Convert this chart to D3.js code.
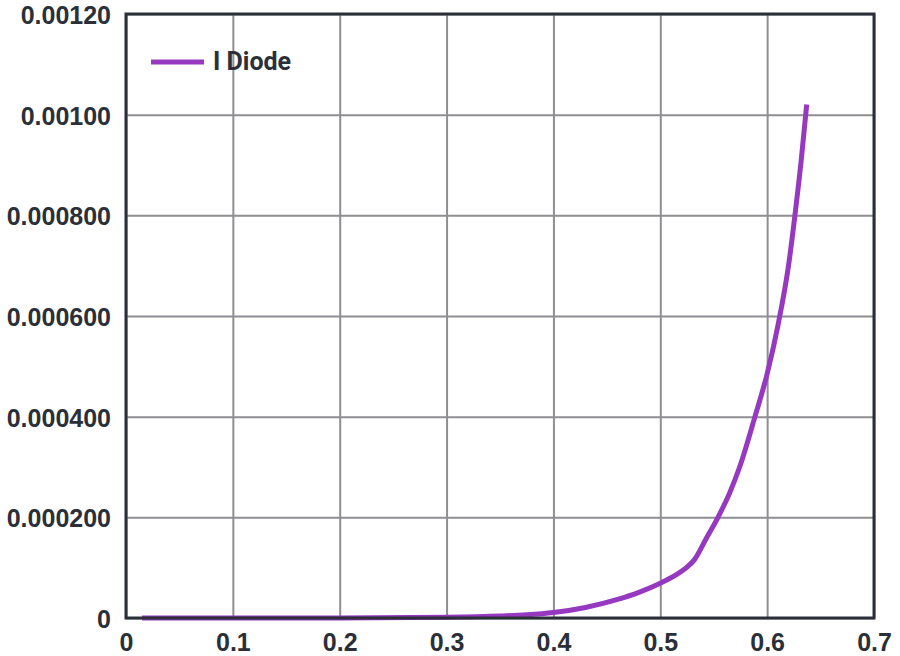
<!DOCTYPE html>
<html>
<head>
<meta charset="utf-8">
<script src="https://cdn.jsdelivr.net/npm/d3@7"></script>
<style>
  html, body { margin: 0; padding: 0; background: #fff; }
  svg { display: block; font-family: Roboto, "Noto Sans", sans-serif; }
  .tick text { font-size: 25px; font-weight: 700; fill: #2b3038; }
  .grid line { stroke: #8e8e93; stroke-width: 2; }
  .grid .domain { display: none; }
</style>
</head>
<body>
<svg width="900" height="656"></svg>
<script>
const seriesName = 'I Diode';

const voltage = [0.015, 0.1, 0.2, 0.3, 0.35, 0.375, 0.4, 0.43, 0.46, 0.48, 0.5, 0.515, 0.525,
  0.532, 0.543, 0.554, 0.565, 0.5746, 0.5886, 0.6, 0.61, 0.62, 0.626, 0.632, 0.637];

const current = [0, 0, 0, 0.0000015, 0.000004, 0.0000065, 0.000011, 0.000021, 0.000037, 0.000051,
  0.000069, 0.000086, 0.000101, 0.000116, 0.000158, 0.0002, 0.000249, 0.000302, 0.0004, 0.000485,
  0.00058, 0.0007, 0.0008, 0.000912, 0.00102];

const xTicks = [0, 0.1, 0.2, 0.3, 0.4, 0.5, 0.6, 0.7];
const xTickLabels = ['0', '0.1', '0.2', '0.3', '0.4', '0.5', '0.6', '0.7'];
const yTicks = [0, 0.0002, 0.0004, 0.0006, 0.0008, 0.001, 0.0012];
const yTickLabels = ['0', '0.000200', '0.000400', '0.000600', '0.000800', '0.00100', '0.00120'];

const svg = d3.select('svg');
const margin = { top: 14, right: 26, bottom: 38, left: 126 };
const width = 900 - margin.left - margin.right;
const height = 656 - margin.top - margin.bottom;

const chart = svg.append('g')
  .attr('transform', `translate(${margin.left}, ${margin.top})`);

const xScale = d3.scaleLinear().domain([0, 0.7]).range([0, width]);
const yScale = d3.scaleLinear().domain([0, 0.0012]).range([height, 0]);

// grid
chart.append('g')
  .attr('class', 'grid')
  .attr('transform', `translate(0, ${height})`)
  .call(d3.axisBottom(xScale).tickValues(xTicks).tickSize(-height).tickFormat(''));

chart.append('g')
  .attr('class', 'grid')
  .call(d3.axisLeft(yScale).tickValues(yTicks).tickSize(-width).tickFormat(''));

// tick labels
const xAxis = chart.append('g')
  .attr('transform', `translate(0, ${height})`)
  .call(d3.axisBottom(xScale).tickValues(xTicks).tickSize(0).tickPadding(15)
    .tickFormat((d, i) => xTickLabels[i]));
xAxis.select('.domain').remove();

const yAxis = chart.append('g')
  .call(d3.axisLeft(yScale).tickValues(yTicks).tickSize(0).tickPadding(15)
    .tickFormat((d, i) => yTickLabels[i]));
yAxis.select('.domain').remove();
yAxis.selectAll('.tick text').attr('dy', '0.38em');

// series
const points = voltage.map((v, i) => ({ v, c: current[i] }));
const line = d3.line()
  .x(d => xScale(d.v))
  .y(d => yScale(d.c))
  .curve(d3.curveMonotoneX);

chart.append('path')
  .datum(points)
  .attr('fill', 'none')
  .attr('stroke', '#9638c0')
  .attr('stroke-width', 5)
  .attr('d', line);

// frame
chart.append('rect')
  .attr('x', 0)
  .attr('y', 0)
  .attr('width', width)
  .attr('height', height)
  .attr('fill', 'none')
  .attr('stroke', '#2b3038')
  .attr('stroke-width', 3);

// legend
const legend = chart.append('g').attr('transform', 'translate(25, 48)');
legend.append('line')
  .attr('x1', 0).attr('x2', 53)
  .attr('y1', 0).attr('y2', 0)
  .attr('stroke', '#9638c0')
  .attr('stroke-width', 5);
legend.append('text')
  .attr('x', 62)
  .attr('y', 8)
  .attr('font-size', 25)
  .attr('font-weight', 700)
  .attr('fill', '#2b3038')
  .text(seriesName);
</script>
</body>
</html>
